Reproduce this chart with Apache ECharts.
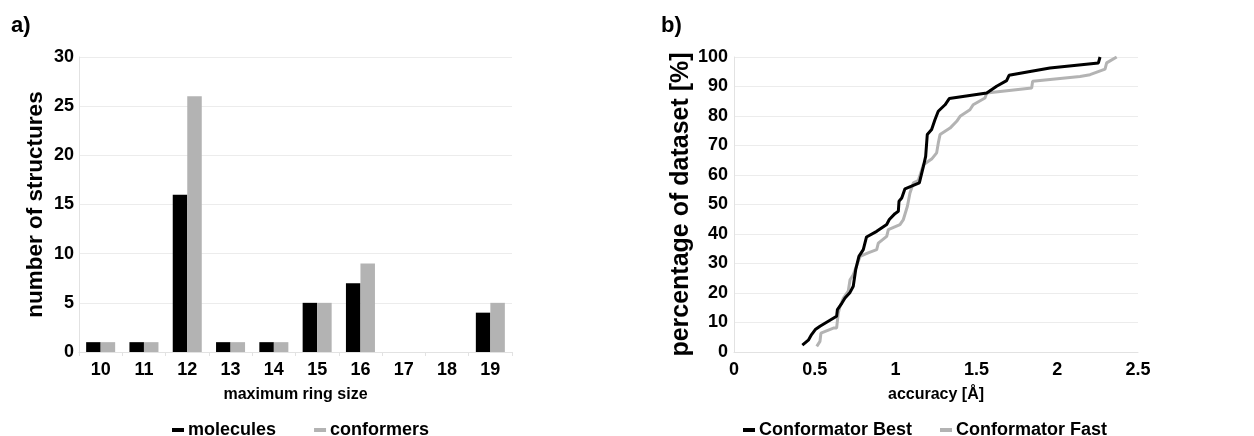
<!DOCTYPE html>
<html>
<head>
<meta charset="utf-8">
<script src="https://cdn.jsdelivr.net/npm/echarts@6/dist/echarts.min.js"></script>
<style>
  html, body { margin: 0; padding: 0; background: #fff; }
  #chart { width: 1254px; height: 436px; }
</style>
</head>
<body>
<div id="chart"></div>
<script>
// panel a) - ring sizes
const ringSizes = ['10', '11', '12', '13', '14', '15', '16', '17', '18', '19']
const molecules = [1, 1, 16, 1, 1, 5, 7, 0, 0, 4]
const conformers = [1, 1, 26, 1, 1, 5, 9, 0, 0, 5]

// panel b) - cumulative accuracy curves
const bestAccuracy = [0.423, 0.46, 0.48, 0.503, 0.532, 0.635, 0.64, 0.668, 0.687, 0.718, 0.738, 0.753, 0.773, 0.8, 0.82,
  0.883, 0.945, 0.961, 0.996, 1.017, 1.021, 1.038, 1.058, 1.147, 1.172, 1.186, 1.196, 1.223, 1.244, 1.264, 1.306, 1.332,
  1.564, 1.625, 1.687, 1.702, 1.832, 1.955, 2.255, 2.265, 2.265]
const bestPercent = [2.3, 4, 5.9, 7.6, 8.7, 12.1, 14.4, 16.6, 18.3, 20.2, 22.3, 27.9, 32.4, 34.7, 39,
  40.9, 43.2, 44.9, 46.9, 47.7, 51.1, 52.2, 55.3, 57.3, 62.9, 66.3, 73.7, 75.4, 78.8, 81.6, 83.8, 85.9,
  87.8, 90.1, 92, 93.8, 95.1, 96.3, 98, 98.2, 100]
const fastAccuracy = [0.512, 0.532, 0.538, 0.615, 0.635, 0.645, 0.656, 0.677, 0.707, 0.718, 0.738, 0.78, 0.83, 0.883,
  0.893, 0.945, 0.955, 1.027, 1.048, 1.073, 1.089, 1.11, 1.14, 1.172, 1.223, 1.254, 1.264, 1.275, 1.337, 1.378, 1.399,
  1.46, 1.48, 1.553, 1.564, 1.842, 1.848, 2.141, 2.203, 2.296, 2.306, 2.368]
const fastPercent = [1.9, 3.6, 6.4, 8.1, 8.1, 13.2, 15.5, 18.3, 20.6, 24.5, 26.2, 32.4, 33.6, 34.7,
  36.9, 39.2, 41.5, 43.2, 44.9, 49.4, 53.9, 57.3, 58.1, 63.5, 65.4, 67.5, 70.8, 73.7, 75.9, 78.2, 79.9,
  82.1, 83.8, 86.1, 87.8, 89.5, 91.8, 93.4, 94, 95.9, 98, 100]

const FONT = 'Liberation Sans, Arial, sans-serif'
const zip = (xs, ys) => xs.map((x, i) => [x, ys[i]])

const chart = echarts.init(document.getElementById('chart'))

const gridLine = { show: true, lineStyle: { color: '#ececec', width: 1 } }
const axisLine = { show: true, lineStyle: { color: '#e2e2e2', width: 1 } }
const tickLabel = { color: '#000', fontFamily: FONT, fontWeight: 'bold', fontSize: 18 }
const legendText = { fontFamily: FONT, fontWeight: 'bold', fontSize: 18, color: '#000', padding: [0, 0, 0, -1] }

const option = {
  animation: false,
  backgroundColor: '#fff',
  title: [
    { text: 'a)', left: 6, top: 10, textStyle: { fontFamily: FONT, fontWeight: 'bold', fontSize: 22, color: '#000' } },
    { text: 'b)', left: 656, top: 10, textStyle: { fontFamily: FONT, fontWeight: 'bold', fontSize: 22, color: '#000' } }
  ],
  legend: [
    {
      data: ['molecules', 'conformers'],
      left: 167, top: 416,
      icon: 'rect', itemWidth: 12, itemHeight: 4, itemGap: 38,
      textStyle: legendText
    },
    {
      data: ['Conformator Best', 'Conformator Fast'],
      left: 738, top: 416,
      icon: 'rect', itemWidth: 12, itemHeight: 4, itemGap: 28,
      textStyle: legendText
    }
  ],
  grid: [
    { left: 79, right: 742, top: 57, bottom: 84 },
    { left: 734, right: 116, top: 57, bottom: 84 }
  ],
  xAxis: [
    {
      gridIndex: 0,
      type: 'category',
      data: ringSizes,
      name: 'maximum ring size',
      nameLocation: 'middle',
      nameGap: 35,
      nameTextStyle: { color: '#000', fontFamily: FONT, fontWeight: 'bold', fontSize: 16 },
      axisLine: axisLine,
      axisTick: { show: true, length: 4, lineStyle: { color: '#e2e2e2' } },
      axisLabel: Object.assign({ margin: 9 }, tickLabel)
    },
    {
      gridIndex: 1,
      type: 'value',
      min: 0, max: 2.5, interval: 0.5,
      name: 'accuracy [Å]',
      nameLocation: 'middle',
      nameGap: 35,
      nameTextStyle: { color: '#000', fontFamily: FONT, fontWeight: 'bold', fontSize: 16 },
      axisLine: axisLine,
      axisTick: { show: false },
      splitLine: { show: false },
      axisLabel: Object.assign({ margin: 9 }, tickLabel)
    }
  ],
  yAxis: [
    {
      gridIndex: 0,
      type: 'value',
      min: 0, max: 30, interval: 5,
      name: 'number of structures',
      nameLocation: 'middle',
      nameGap: 32,
      nameTextStyle: { color: '#000', fontFamily: FONT, fontWeight: 'bold', fontSize: 22.5 },
      axisLine: axisLine,
      axisTick: { show: false },
      splitLine: gridLine,
      axisLabel: Object.assign({ margin: 5 }, tickLabel)
    },
    {
      gridIndex: 1,
      type: 'value',
      min: 0, max: 100, interval: 10,
      name: 'percentage of dataset [%]',
      nameLocation: 'middle',
      nameGap: 35,
      nameTextStyle: { color: '#000', fontFamily: FONT, fontWeight: 'bold', fontSize: 25 },
      axisLine: axisLine,
      axisTick: { show: false },
      splitLine: gridLine,
      axisLabel: Object.assign({ margin: 6 }, tickLabel)
    }
  ],
  series: [
    {
      name: 'molecules', type: 'bar', xAxisIndex: 0, yAxisIndex: 0,
      data: molecules, barGap: 0, barCategoryGap: '33%',
      itemStyle: { color: '#000' }
    },
    {
      name: 'conformers', type: 'bar', xAxisIndex: 0, yAxisIndex: 0,
      data: conformers, barGap: 0, barCategoryGap: '33%',
      itemStyle: { color: '#b3b3b3' }
    },
    {
      name: 'Conformator Fast', type: 'line', xAxisIndex: 1, yAxisIndex: 1,
      data: zip(fastAccuracy, fastPercent), showSymbol: false, symbol: 'none',
      lineStyle: { color: '#b3b3b3', width: 3 }, itemStyle: { color: '#b3b3b3' }, z: 2
    },
    {
      name: 'Conformator Best', type: 'line', xAxisIndex: 1, yAxisIndex: 1,
      data: zip(bestAccuracy, bestPercent), showSymbol: false, symbol: 'none',
      lineStyle: { color: '#000', width: 3 }, itemStyle: { color: '#000' }, z: 3
    }
  ]
}

chart.setOption(option)
</script>
</body>
</html>
